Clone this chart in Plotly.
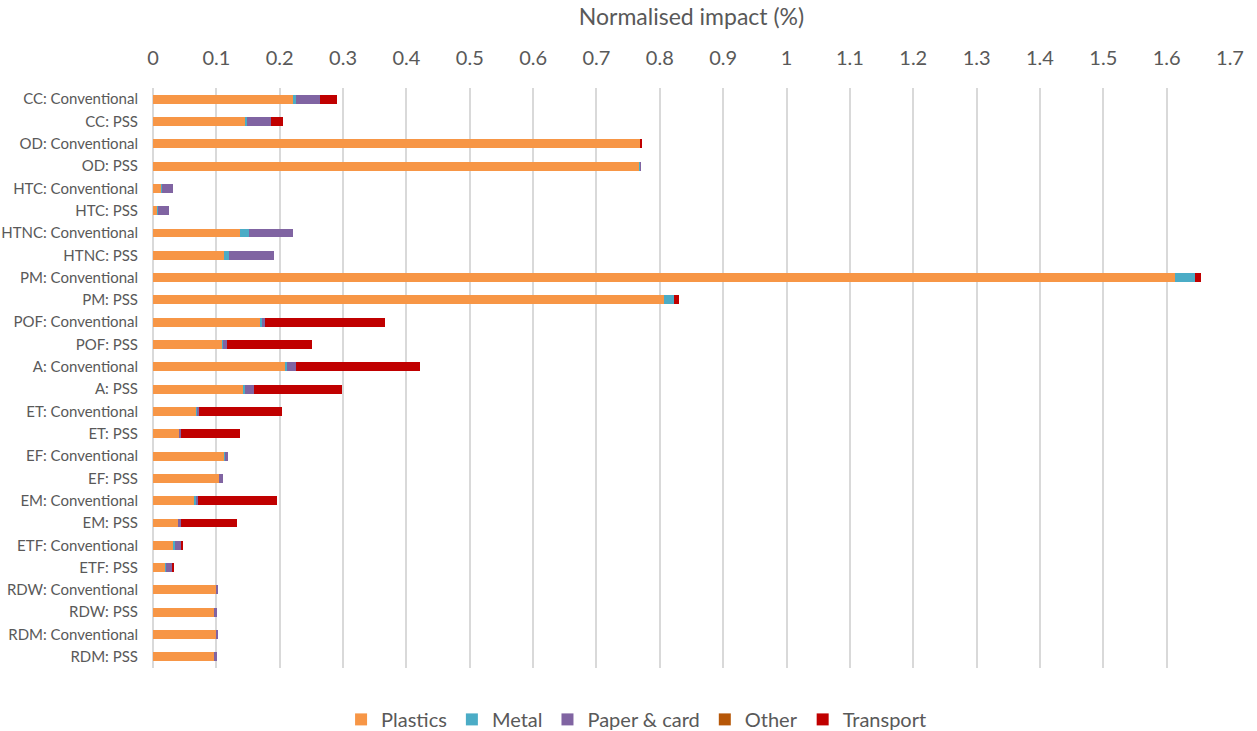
import plotly.graph_objects as go

categories = [
    "CC: Conventional", "CC: PSS",
    "OD: Conventional", "OD: PSS",
    "HTC: Conventional", "HTC: PSS",
    "HTNC: Conventional", "HTNC: PSS",
    "PM: Conventional", "PM: PSS",
    "POF: Conventional", "POF: PSS",
    "A: Conventional", "A: PSS",
    "ET: Conventional", "ET: PSS",
    "EF: Conventional", "EF: PSS",
    "EM: Conventional", "EM: PSS",
    "ETF: Conventional", "ETF: PSS",
    "RDW: Conventional", "RDW: PSS",
    "RDM: Conventional", "RDM: PSS",
]

plastics = [0.2208, 0.1457, 0.7700, 0.7680, 0.0131, 0.0068, 0.1367, 0.1120,
            1.6130, 0.8070, 0.1683, 0.1094, 0.2082, 0.1436, 0.0683, 0.0415,
            0.1136, 0.1046, 0.0662, 0.0400, 0.0331, 0.0195, 0.0989, 0.0978,
            0.0989, 0.0978]
metal = [0.0053, 0.0026, 0.0, 0.0010, 0.0016, 0.0016, 0.0142, 0.0084,
         0.0310, 0.0158, 0.0032, 0.0016, 0.0032, 0.0021, 0.0020, 0.0010,
         0.0005, 0.0, 0.0026, 0.0010, 0.0016, 0.0011, 0.0, 0.0,
         0.0, 0.0]
paper = [0.0379, 0.0384, 0.0, 0.0010, 0.0168, 0.0168, 0.0700, 0.0700,
         0.0, 0.0, 0.0058, 0.0058, 0.0147, 0.0142, 0.0016, 0.0016,
         0.0037, 0.0058, 0.0026, 0.0026, 0.0100, 0.0089, 0.0032, 0.0026,
         0.0032, 0.0026]
other = [0.0, 0.0, 0.0, 0.0, 0.0, 0.0, 0.0, 0.0,
         0.0, 0.0, 0.0, 0.0, 0.0, 0.0, 0.0, 0.0,
         0.0, 0.0, 0.0, 0.0, 0.0, 0.0, 0.0, 0.0,
         0.0, 0.0]
transport = [0.0258, 0.0189, 0.0012, 0.0, 0.0, 0.0, 0.0, 0.0,
             0.0105, 0.0079, 0.1883, 0.1336, 0.1951, 0.1378, 0.1320, 0.0930,
             0.0, 0.0, 0.1246, 0.0888, 0.0021, 0.0032, 0.0, 0.0,
             0.0, 0.0]

series = [
    ("Plastics", plastics, "#F79646"),
    ("Metal", metal, "#4BACC6"),
    ("Paper & card", paper, "#8064A2"),
    ("Other", other, "#B65708"),
    ("Transport", transport, "#C00000"),
]

font_family = "Lato, 'Open Sans', sans-serif"

fig = go.Figure()
for name, values, color in series:
    fig.add_trace(go.Bar(
        name=name,
        y=categories,
        x=values,
        orientation="h",
        marker=dict(color=color, line=dict(width=0)),
        width=0.4,
    ))

fig.update_layout(
    barmode="stack",
    width=1257,
    height=731,
    paper_bgcolor="white",
    plot_bgcolor="white",
    margin=dict(l=153, r=27, t=88, b=63, autoexpand=False),
    font=dict(family=font_family, color="#595959"),
    xaxis=dict(
        side="top",
        range=[0, 1.7],
        dtick=0.1,
        tick0=0,
        showgrid=True,
        gridcolor="#D9D9D9",
        gridwidth=1.5,
        zeroline=True,
        zerolinecolor="#D9D9D9",
        zerolinewidth=1.5,
        showline=False,
        ticks="",
        ticklabelstandoff=18,
        tickfont=dict(size=20, color="#595959"),
        title=dict(text="Normalised impact (%)", font=dict(size=23, color="#595959"),
                   standoff=12),
    ),
    yaxis=dict(
        categoryorder="array",
        categoryarray=categories,
        autorange="reversed",
        showgrid=False,
        zeroline=False,
        ticks="",
        ticklabelstandoff=14,
        tickfont=dict(size=15, color="#595959"),
    ),
    legend=dict(
        orientation="h",
        x=0.449,
        xanchor="center",
        y=-0.055,
        yanchor="top",
        font=dict(size=20, color="#595959"),
        itemwidth=30,
        traceorder="normal",
    ),
    bargap=0.6,
)

fig.write_html("out.html")
